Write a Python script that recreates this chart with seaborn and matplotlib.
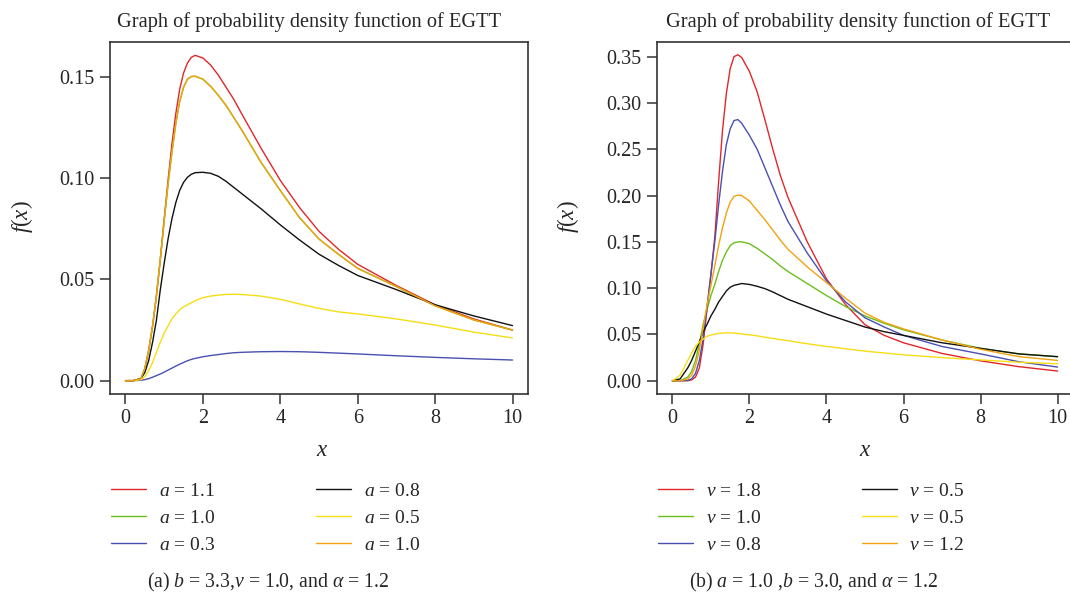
import numpy as np
import pandas as pd
import matplotlib
matplotlib.use("Agg")
import matplotlib.pyplot as plt
import seaborn as sns

# ---------------- data ----------------
x_grid = [0, 0.2, 0.4, 0.5, 0.6, 0.7, 0.8, 0.9, 1.0, 1.1, 1.2, 1.3, 1.4, 1.5, 1.6,
          1.7, 1.8, 2.0, 2.2, 2.4, 2.6, 2.8, 3.0, 3.5, 4.0, 4.5, 5.0, 5.5, 6.0,
          7.0, 8.0, 9.0, 10.0]

# panel (a): varying a
a_labels = ["a = 1.1", "a = 1.0", "a = 0.3", "a = 0.8", "a = 0.5", "a = 1.0"]
a_red = [0, 0, 0.001, 0.006, 0.015, 0.027, 0.042, 0.060, 0.080, 0.099, 0.117, 0.132,
         0.144, 0.152, 0.157, 0.1598, 0.1608, 0.1595, 0.156, 0.151, 0.145, 0.139,
         0.132, 0.115, 0.099, 0.0855, 0.0738, 0.065, 0.0575, 0.047, 0.0375, 0.0305,
         0.025]
a_orange = [0, 0, 0.001, 0.006, 0.015, 0.027, 0.042, 0.060, 0.079, 0.097, 0.113,
            0.127, 0.138, 0.145, 0.149, 0.1503, 0.1505, 0.149, 0.1455, 0.141, 0.136,
            0.130, 0.124, 0.108, 0.094, 0.0805, 0.070, 0.0625, 0.0555, 0.0465, 0.037,
            0.030, 0.025]
a_green = a_orange  # a = 1.0 twice: the green curve lies under the orange one
a_blue = [0, 0, 0.0002, 0.0005, 0.001, 0.0017, 0.0025, 0.0033, 0.0042, 0.0052,
          0.0062, 0.0072, 0.0081, 0.009, 0.0098, 0.0105, 0.011, 0.0118, 0.0124,
          0.0129, 0.0134, 0.0138, 0.014, 0.0143, 0.0144, 0.0143, 0.014, 0.0136,
          0.0132, 0.0123, 0.0115, 0.0108, 0.0102]
a_black = [0, 0, 0.001, 0.004, 0.010, 0.019, 0.030, 0.045, 0.058, 0.070, 0.080,
           0.088, 0.094, 0.098, 0.1005, 0.102, 0.1028, 0.103, 0.1025, 0.101, 0.0985,
           0.0955, 0.0925, 0.085, 0.077, 0.0695, 0.0625, 0.057, 0.052, 0.045, 0.0375,
           0.032, 0.0272]
a_yellow = [0, 0, 0.0005, 0.002, 0.005, 0.009, 0.014, 0.019, 0.0235, 0.027, 0.0305,
            0.033, 0.035, 0.0365, 0.0375, 0.0385, 0.0395, 0.041, 0.0418, 0.0423,
            0.0426, 0.0427, 0.0426, 0.0418, 0.0402, 0.0379, 0.0357, 0.034, 0.033,
            0.0305, 0.0275, 0.024, 0.0211]

# panel (b): varying v
v_labels = ["v = 1.8", "v = 1.0", "v = 0.8", "v = 0.5", "v = 0.5", "v = 1.2"]
v_red = [0, 0, 0, 0.001, 0.004, 0.014, 0.040, 0.078, 0.115, 0.155, 0.215, 0.270,
         0.310, 0.337, 0.350, 0.352, 0.349, 0.334, 0.312, 0.282, 0.251, 0.222, 0.198,
         0.150, 0.110, 0.082, 0.0605, 0.049, 0.041, 0.0295, 0.0215, 0.0152, 0.0105]
v_green = [0, 0, 0.004, 0.010, 0.022, 0.040, 0.061, 0.077, 0.092, 0.104, 0.118,
           0.130, 0.139, 0.146, 0.149, 0.150, 0.150, 0.148, 0.143, 0.137, 0.131,
           0.124, 0.118, 0.105, 0.092, 0.080, 0.070, 0.062, 0.055, 0.044, 0.035,
           0.029, 0.026]
v_blue = [0, 0, 0.0005, 0.002, 0.008, 0.022, 0.046, 0.080, 0.115, 0.150, 0.190,
          0.226, 0.255, 0.272, 0.281, 0.282, 0.278, 0.265, 0.250, 0.230, 0.210,
          0.190, 0.172, 0.138, 0.108, 0.085, 0.068, 0.058, 0.049, 0.037, 0.029,
          0.0205, 0.0148]
v_black = [0, 0.002, 0.014, 0.022, 0.032, 0.042, 0.053, 0.061, 0.070, 0.077, 0.085,
           0.091, 0.097, 0.101, 0.103, 0.104, 0.105, 0.104, 0.102, 0.0995, 0.096,
           0.092, 0.088, 0.080, 0.072, 0.065, 0.058, 0.053, 0.049, 0.041, 0.035,
           0.029, 0.026]
v_yellow = [0, 0.006, 0.022, 0.030, 0.037, 0.042, 0.045, 0.048, 0.0495, 0.0505,
            0.051, 0.0515, 0.0518, 0.0518, 0.0515, 0.051, 0.0505, 0.0495, 0.0485,
            0.047, 0.0458, 0.0445, 0.0432, 0.040, 0.037, 0.0345, 0.032, 0.030, 0.028,
            0.025, 0.0225, 0.020, 0.0184]
v_orange = [0, 0, 0.002, 0.006, 0.016, 0.033, 0.058, 0.082, 0.103, 0.124, 0.146,
            0.165, 0.181, 0.193, 0.199, 0.2005, 0.200, 0.194, 0.184, 0.174, 0.163,
            0.152, 0.142, 0.123, 0.106, 0.089, 0.073, 0.063, 0.056, 0.044, 0.034,
            0.026, 0.022]

x_ticks = [0, 2, 4, 6, 8, 10]
a_yticks = [0.00, 0.05, 0.10, 0.15]
v_yticks = [0.00, 0.05, 0.10, 0.15, 0.20, 0.25, 0.30, 0.35]

title_text = "Graph of probability density function of EGTT"
caption_a = r"(a) $b$ = 3.3,$\nu$ = 1.0, and $\alpha$ = 1.2"
caption_b = r"(b) $a$ = 1.0 ,$b$ = 3.0, and $\alpha$ = 1.2"

colors = ["#E3262A", "#6CBF1A", "#4A50B2", "#111111", "#F5DE14", "#F2A20F"]

# ---------------- style ----------------
sns.set_style("ticks")
plt.rcParams["font.family"] = ["Liberation Serif", "DejaVu Serif"]
plt.rcParams["mathtext.fontset"] = "custom"
plt.rcParams["mathtext.rm"] = "Liberation Serif"
plt.rcParams["mathtext.it"] = "Liberation Serif:italic"
plt.rcParams["mathtext.bf"] = "Liberation Serif:bold"

W, H = 1070, 595
fig = plt.figure(figsize=(W / 100, H / 100), dpi=100)


def px_axes(l, t, r, b):
    return fig.add_axes([l / W, 1 - b / H, (r - l) / W, (b - t) / H])


ax_a = px_axes(110, 42, 528, 394)
ax_b = px_axes(657, 42, 1073, 394)


def mathlabel(s):
    name, val = s.split(" = ")
    sym = {"a": "a", "v": r"\nu"}[name]
    return rf"${sym}$ = {val}"


panels = [
    (ax_a, [a_red, a_green, a_blue, a_black, a_yellow, a_orange], a_labels,
     a_yticks, (-0.0066, 0.1674), 322, 22, caption_a, 268, 309.5),
    (ax_b, [v_red, v_green, v_blue, v_black, v_yellow, v_orange], v_labels,
     v_yticks, (-0.0143, 0.3658), 865, 568, caption_b, 814, 858),
]

for (ax, series, labels, yt, ylim, xl_px, yl_px, cap, cap_x, title_x) in panels:
    for ys, lab, col in zip(series, labels, colors):
        df = pd.DataFrame({"x": x_grid, "y": ys})
        sns.lineplot(data=df, x="x", y="y", ax=ax, color=col, lw=1.0,
                     label=mathlabel(lab), legend=False)
    ax.set_xlim(-0.4, 10.4)
    ax.set_ylim(*ylim)
    ax.set_xticks(x_ticks)
    ax.set_xticklabels([str(t) for t in x_ticks])
    ax.set_yticks(yt)
    ax.set_yticklabels([f"{t:.2f}" for t in yt])
    ax.tick_params(axis="both", direction="out", length=7, width=1.1,
                   color="#333333", labelsize=14.5, pad=4)
    for sp in ax.spines.values():
        sp.set_visible(True)
        sp.set_linewidth(1.2)
        sp.set_color("#333333")
    l, b, w, h = ax.get_position().bounds
    axl = l * W
    axr = (l + w) * W
    axt = (1 - b - h) * H
    axb = (1 - b) * H
    ax.set_xlabel("$x$", fontsize=16.5)
    ax.xaxis.set_label_coords((xl_px - axl) / (axr - axl), (axb - 451) / (axb - axt))
    ax.xaxis.label.set_va("center")
    ax.set_ylabel("$f(x)$", fontsize=16.5)
    ax.yaxis.set_label_coords((yl_px - axl) / (axr - axl), (axb - 217) / (axb - axt))
    ax.yaxis.label.set_va("center")
    fig.text(title_x / W, 1 - 22 / H, title_text, ha="center", va="center",
             fontsize=14.7)
    fig.text(cap_x / W, 1 - 582 / H, cap, ha="center", va="center", fontsize=14.2)
    handles = ax.get_lines()[:6]
    leg_x = axl + 1
    fig.legend(handles, [h.get_label() for h in handles], ncol=2,
               loc="upper left", bbox_to_anchor=(leg_x / W, 1 - 482 / H),
               frameon=False, fontsize=14, handlelength=1.8, handletextpad=0.65,
               columnspacing=5.2, labelspacing=0.5, borderpad=0, borderaxespad=0)

fig.savefig("out.png", dpi=100)
